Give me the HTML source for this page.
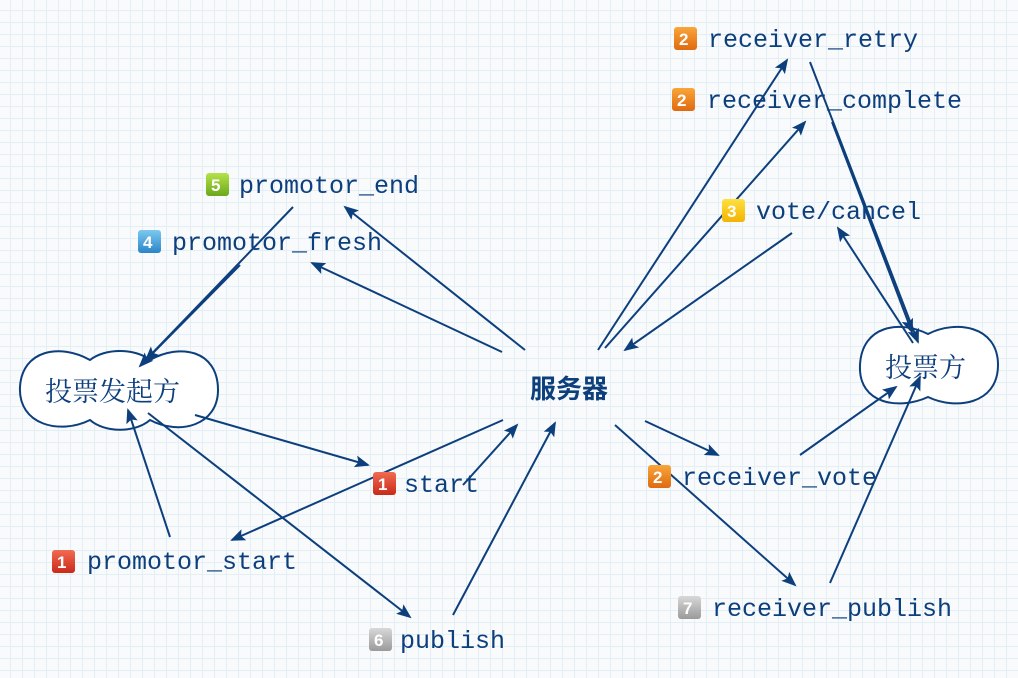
<!DOCTYPE html>
<html><head><meta charset="utf-8"><style>
html,body{margin:0;padding:0}
body{width:1018px;height:678px;overflow:hidden;background-color:#f8fafb;
background-image:linear-gradient(#e3eff5 1px,transparent 1px),linear-gradient(90deg,#e3eff5 1px,transparent 1px);
background-size:12px 12px;background-position:10px 10px;position:relative}
svg{position:absolute;left:0;top:0}
.t{font-family:"Liberation Mono",monospace;font-size:25px;fill:#0d3f7d}
.c{font-family:"Liberation Serif","Noto Serif CJK SC",serif;font-size:27px;fill:#0d3f7d}
.b{font-family:"Liberation Sans",sans-serif;font-size:17px;font-weight:bold;fill:#fff}
</style></head><body>
<svg width="1018" height="678" viewBox="0 0 1018 678">
<defs>
<marker id="a" markerWidth="16" markerHeight="12" refX="13" refY="6" orient="auto" markerUnits="userSpaceOnUse">
<path d="M0,0 L15,6 L0,12 L3,6 Z" fill="#0d3f7d"/>
</marker>
<linearGradient id="r" x1="0" y1="0" x2="0" y2="1"><stop offset="0" stop-color="#f26a52"/><stop offset="1" stop-color="#c92a1a"/></linearGradient>
<linearGradient id="o" x1="0" y1="0" x2="0" y2="1"><stop offset="0" stop-color="#f9a53a"/><stop offset="1" stop-color="#e06a10"/></linearGradient>
<linearGradient id="y" x1="0" y1="0" x2="0" y2="1"><stop offset="0" stop-color="#ffe040"/><stop offset="1" stop-color="#f2b400"/></linearGradient>
<linearGradient id="g" x1="0" y1="0" x2="0" y2="1"><stop offset="0" stop-color="#b6e24a"/><stop offset="1" stop-color="#6aa81a"/></linearGradient>
<linearGradient id="bl" x1="0" y1="0" x2="0" y2="1"><stop offset="0" stop-color="#7dc8f0"/><stop offset="1" stop-color="#2a86c8"/></linearGradient>
<linearGradient id="gr" x1="0" y1="0" x2="0" y2="1"><stop offset="0" stop-color="#d8d8d8"/><stop offset="1" stop-color="#9a9a9a"/></linearGradient>
</defs>
<g fill="#fff" stroke="#0d3f7d" stroke-width="2">
<path d="M90,360 C60,343 22,350 20,387 C18,425 60,435 90,420 C105,433 135,433 150,420 C180,436 218,425 218,390 C218,350 180,343 150,360 C135,348 105,348 90,360 Z"/>
<path d="M928,334 C900,320 862,325 860,365 C858,405 900,410 928,397 C955,410 998,405 998,365 C998,325 955,320 928,334 Z"/>
</g>
<g stroke="#0d3f7d" stroke-width="2" fill="none" marker-end="url(#a)">
<line x1="293" y1="207" x2="140" y2="366"/>
<line x1="240" y1="265" x2="146" y2="360"/>
<line x1="525" y1="350" x2="345" y2="207"/>
<line x1="502" y1="352" x2="312" y2="263"/>
<line x1="195" y1="415" x2="368" y2="465"/>
<line x1="170" y1="537" x2="128" y2="410"/>
<line x1="148" y1="413" x2="410" y2="617"/>
<line x1="463" y1="485" x2="517" y2="425"/>
<line x1="503" y1="420" x2="232" y2="540"/>
<line x1="453" y1="615" x2="555" y2="423"/>
<line x1="598" y1="350" x2="787" y2="60"/>
<line x1="605" y1="348" x2="805" y2="122"/>
<line x1="792" y1="233" x2="625" y2="350"/>
<line x1="810" y1="62" x2="918" y2="342"/>
<line x1="832" y1="122" x2="912" y2="332"/>
<line x1="913" y1="343" x2="838" y2="228"/>
<line x1="645" y1="421" x2="718" y2="455"/>
<line x1="615" y1="425" x2="795" y2="585"/>
<line x1="800" y1="455" x2="896" y2="387"/>
<line x1="830" y1="583" x2="920" y2="377"/>
</g>
<text class="c" x="45" y="401">投票发起方</text>
<text class="c" x="885" y="377">投票方</text>
<text x="530" y="398" style="font-family:'Liberation Sans','Noto Sans CJK SC',sans-serif;font-weight:bold;font-size:26px;fill:#0d3f7d">服务器</text>
<g>
<rect x="674" y="27" width="23" height="23" rx="3" fill="url(#o)"/><text class="b" x="679" y="45">2</text>
<text class="t" x="708" y="47">receiver_retry</text>
<rect x="672" y="88" width="23" height="23" rx="3" fill="url(#o)"/><text class="b" x="677" y="106">2</text>
<text class="t" x="707" y="108">receiver_complete</text>
<rect x="722" y="199" width="23" height="23" rx="3" fill="url(#y)"/><text class="b" x="727" y="217">3</text>
<text class="t" x="756" y="219">vote/cancel</text>
<rect x="206" y="173" width="23" height="23" rx="3" fill="url(#g)"/><text class="b" x="211" y="191">5</text>
<text class="t" x="239" y="193">promotor_end</text>
<rect x="138" y="230" width="23" height="23" rx="3" fill="url(#bl)"/><text class="b" x="143" y="248">4</text>
<text class="t" x="172" y="250">promotor_fresh</text>
<rect x="373" y="472" width="23" height="23" rx="3" fill="url(#r)"/><text class="b" x="378" y="490">1</text>
<text class="t" x="404" y="492">start</text>
<rect x="52" y="550" width="23" height="23" rx="3" fill="url(#r)"/><text class="b" x="57" y="568">1</text>
<text class="t" x="87" y="569">promotor_start</text>
<rect x="369" y="628" width="23" height="23" rx="3" fill="url(#gr)"/><text class="b" x="374" y="646">6</text>
<text class="t" x="400" y="648">publish</text>
<rect x="648" y="465" width="23" height="23" rx="3" fill="url(#o)"/><text class="b" x="653" y="483">2</text>
<text class="t" x="682" y="485">receiver_vote</text>
<rect x="678" y="596" width="23" height="23" rx="3" fill="url(#gr)"/><text class="b" x="683" y="614">7</text>
<text class="t" x="712" y="616">receiver_publish</text>
</g>
</svg>
</body></html>
